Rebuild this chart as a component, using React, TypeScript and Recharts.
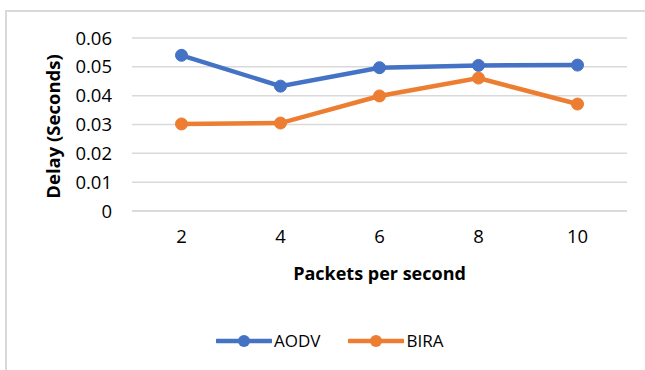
import React from "react";
import { CartesianGrid, Line, LineChart, XAxis, YAxis } from "recharts";

const packets = ["2", "4", "6", "8", "10"];
const aodv = [0.054, 0.0433, 0.0497, 0.0505, 0.0506];
const bira = [0.0302, 0.0305, 0.0399, 0.0461, 0.0371];
const yTicks = [0, 0.01, 0.02, 0.03, 0.04, 0.05, 0.06];

const data = packets.map((p, i) => ({ p, AODV: aodv[i], BIRA: bira[i] }));

const FONT = "'Open Sans', sans-serif";
const BLUE = "#4472C4";
const ORANGE = "#ED7D31";
const GRID = "#d9d9d9";

function LegendItem({ color, label }: { color: string; label: string }) {
  return (
    <div style={{ display: "flex", alignItems: "center", marginRight: 28 }}>
      <svg width={56} height={14}>
        <line x1={1} y1={7} x2={55} y2={7} stroke={color} strokeWidth={4.5} strokeLinecap="round" />
        <circle cx={28} cy={7} r={6} fill={color} />
      </svg>
      <span style={{ marginLeft: 2 }}>{label}</span>
    </div>
  );
}

export default function App() {
  return (
    <div style={{ position: "fixed", left: 0, top: 0, width: 645, height: 370, background: "#fff", fontFamily: FONT }}>
      <div
        style={{
          position: "absolute",
          left: 5,
          top: 10,
          width: 660,
          height: 380,
          border: `2px solid ${GRID}`,
          boxSizing: "border-box",
        }}
      />
      <LineChart width={645} height={370} data={data} margin={{ top: 38, right: 18, left: 0, bottom: 79 }}>
        <CartesianGrid stroke={GRID} strokeWidth={1.5} vertical={false} />
        <XAxis
          dataKey="p"
          height={80}
          padding={{ left: 49.5, right: 49.5 }}
          axisLine={{ stroke: GRID, strokeWidth: 1.5 }}
          tickLine={false}
          tickMargin={13}
          tick={{ fill: "#000", fontSize: 18.5, fontFamily: FONT }}
          label={{
            value: "Packets per second",
            position: "insideBottom",
            offset: 11,
            style: { fill: "#000", fontSize: 18, fontWeight: 700, fontFamily: FONT },
          }}
        />
        <YAxis
          width={132}
          domain={[0, 0.06]}
          ticks={yTicks}
          axisLine={false}
          tickLine={false}
          tickMargin={14}
          tick={{ fill: "#000", fontSize: 18.5, fontFamily: FONT }}
          label={{
            content: ({ viewBox }: any) => (
              <text
                x={viewBox.x + 52}
                y={viewBox.y + viewBox.height / 2 + 2}
                transform={`rotate(-90 ${viewBox.x + 52} ${viewBox.y + viewBox.height / 2 + 2})`}
                textAnchor="middle"
                dominantBaseline="central"
                style={{ fill: "#000", fontSize: 18.5, fontWeight: 700, fontFamily: FONT }}
              >
                Delay (Seconds)
              </text>
            ),
          }}
        />
        <Line
          dataKey="AODV"
          stroke={BLUE}
          strokeWidth={4.5}
          dot={{ r: 6, fill: BLUE, stroke: BLUE, strokeWidth: 1 }}
          isAnimationActive={false}
        />
        <Line
          dataKey="BIRA"
          stroke={ORANGE}
          strokeWidth={4.5}
          dot={{ r: 6, fill: ORANGE, stroke: ORANGE, strokeWidth: 1 }}
          isAnimationActive={false}
        />
      </LineChart>
      <div
        style={{
          position: "absolute",
          left: 216,
          top: 329,
          display: "flex",
          fontSize: 17,
          color: "#000",
        }}
      >
        <LegendItem color={BLUE} label="AODV" />
        <LegendItem color={ORANGE} label="BIRA" />
      </div>
    </div>
  );
}
